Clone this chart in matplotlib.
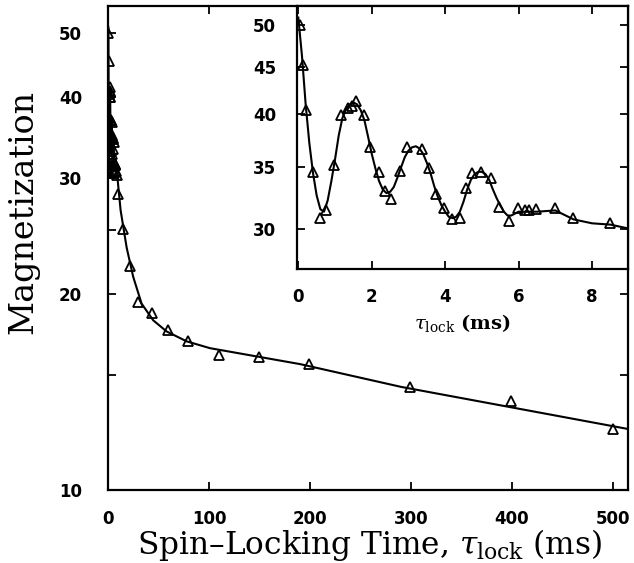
import matplotlib
matplotlib.use("Agg")
import matplotlib.pyplot as plt
from matplotlib.ticker import FixedLocator, NullFormatter

# short-time data (ms) -- shown in the inset and at the far left of the main plot
t_short = [0.05, 0.13, 0.20, 0.40, 0.58, 0.76, 0.97, 1.16, 1.35, 1.45, 1.58, 1.78,
           1.96, 2.19, 2.35, 2.53, 2.78, 2.95, 3.36, 3.56, 3.75, 3.98, 4.20, 4.41,
           4.57, 4.74, 4.98, 5.24, 5.47, 5.75, 5.99, 6.18, 6.29, 6.48, 7.00, 7.48, 8.49]
m_short = [50.0, 45.3, 40.4, 34.6, 30.8, 31.4, 35.2, 39.9, 40.6, 40.8, 41.3, 39.9,
           36.8, 34.6, 33.0, 32.3, 34.7, 36.8, 36.6, 34.9, 32.7, 31.6, 30.7, 30.8,
           33.2, 34.5, 34.6, 34.1, 31.7, 30.6, 31.6, 31.4, 31.4, 31.5, 31.6, 30.8, 30.4]

# long-time data (ms)
t_long = [9.2, 14.9, 21.8, 29, 43, 59, 79, 110, 149, 199, 299, 399, 500]
m_long = [28.4, 25.1, 22.0, 19.4, 18.7, 17.6, 16.9, 16.1, 16.0, 15.6, 14.4, 13.7, 12.4]

# fitted curve
fit_t_short = [0.0, 0.1, 0.2, 0.3, 0.4, 0.5, 0.6, 0.7, 0.8, 0.9, 1.0, 1.1, 1.2, 1.3,
               1.4, 1.5, 1.6, 1.7, 1.8, 1.9, 2.0, 2.1, 2.2, 2.3, 2.4, 2.5, 2.6, 2.7,
               2.8, 2.9, 3.0, 3.1, 3.2, 3.3, 3.4, 3.5, 3.6, 3.7, 3.8, 3.9, 4.0, 4.1,
               4.2, 4.3, 4.4, 4.5, 4.6, 4.7, 4.8, 4.9, 5.0, 5.1, 5.2, 5.3, 5.4, 5.5,
               5.6, 5.7, 5.8, 6.0, 6.5, 7.0, 7.5, 8.0, 8.5, 9.0]
fit_m_short = [51.0, 46.3, 41.0, 37.2, 34.5, 32.6, 31.5, 31.3, 32.2, 33.8, 35.7, 37.9,
               39.6, 40.5, 41.0, 41.2, 41.0, 40.4, 39.4, 37.8, 36.2, 34.9, 33.8, 33.1,
               32.8, 32.9, 33.3, 34.1, 35.0, 35.9, 36.5, 36.8, 36.9, 36.7, 36.2, 35.4,
               34.5, 33.4, 32.5, 31.8, 31.3, 30.9, 30.8, 30.9, 31.3, 32.1, 33.1, 33.9,
               34.4, 34.6, 34.6, 34.4, 33.9, 33.1, 32.4, 31.8, 31.3, 31.0, 31.0, 31.3,
               31.3, 31.4, 30.7, 30.4, 30.3, 30.0]
fit_t_long = [12.1, 18.1, 24.6, 32.9, 44.4, 57.7, 77.6, 100.7, 190, 290, 388, 517]
fit_m_long = [26.8, 23.5, 21.2, 19.3, 18.2, 17.5, 16.9, 16.5, 15.6, 14.4, 13.5, 12.4]

plt.rcParams['mathtext.fontset'] = 'dejavuserif'

fig = plt.figure(figsize=(6.34, 5.63), dpi=100)
ax = fig.add_axes([0.171, 0.1288, 0.8195, 0.8605])

ax.plot(fit_t_short + fit_t_long, fit_m_short + fit_m_long, color='black', lw=1.5)
ax.plot(t_short + t_long, m_short + m_long, ls='none', marker='^', ms=7,
        mfc='none', mec='black', mew=1.3)
ax.set_yscale('log')
ax.set_xlim(0, 515)
ax.set_ylim(10, 55)
ax.set_xticks([0, 100, 200, 300, 400, 500])
ax.set_xticklabels(['0', '100', '200', '300', '400', '500'], fontweight='bold', fontsize=12)
ax.yaxis.set_major_locator(FixedLocator([10, 20, 30, 40, 50]))
ax.set_yticklabels(['10', '20', '30', '40', '50'], fontweight='bold', fontsize=12)
ax.yaxis.set_minor_locator(FixedLocator([15, 25]))
ax.yaxis.set_minor_formatter(NullFormatter())
ax.tick_params(which='both', direction='in', top=True, right=True, width=1.3, length=6)
ax.tick_params(axis='x', pad=14)
ax.tick_params(axis='y', pad=19)
for s in ax.spines.values():
    s.set_linewidth(1.6)

ax.set_xlabel('Spin\u2013Locking Time, $\\tau_{\\rm lock}$ (ms)', family='DejaVu Serif', fontsize=22.5)
ax.xaxis.set_label_coords(0.503, -0.075)
ax.set_ylabel('Magnetization', family='DejaVu Serif', fontsize=24)
ax.yaxis.set_label_coords(-0.132, 0.575)

# inset
ins = fig.add_axes([0.4685, 0.5222, 0.522, 0.4671])
ins.plot(fit_t_short, fit_m_short, color='black', lw=1.5)
ins.plot(t_short, m_short, ls='none', marker='^', ms=7, mfc='none', mec='black', mew=1.3)
ins.set_yscale('log')
ins.set_xlim(-0.035, 8.98)
ins.set_ylim(27.1, 52.5)
ins.set_xticks([0, 2, 4, 6, 8])
ins.set_xticklabels(['0', '2', '4', '6', '8'], fontweight='bold', fontsize=12)
ins.yaxis.set_major_locator(FixedLocator([30, 35, 40, 45, 50]))
ins.set_yticklabels(['30', '35', '40', '45', '50'], fontweight='bold', fontsize=12)
ins.yaxis.set_minor_locator(FixedLocator([]))
ins.tick_params(which='both', direction='in', top=True, right=True, width=1.3, length=6)
ins.tick_params(axis='x', pad=14)
ins.tick_params(axis='y', pad=15)
for s in ins.spines.values():
    s.set_linewidth(1.6)
ins.set_xlabel('$\\tau_{\\rm lock}$ (ms)', family='DejaVu Serif', fontweight='bold', fontsize=14)
ins.xaxis.set_label_coords(0.498, -0.162)

fig.savefig('out.png', dpi=100)
